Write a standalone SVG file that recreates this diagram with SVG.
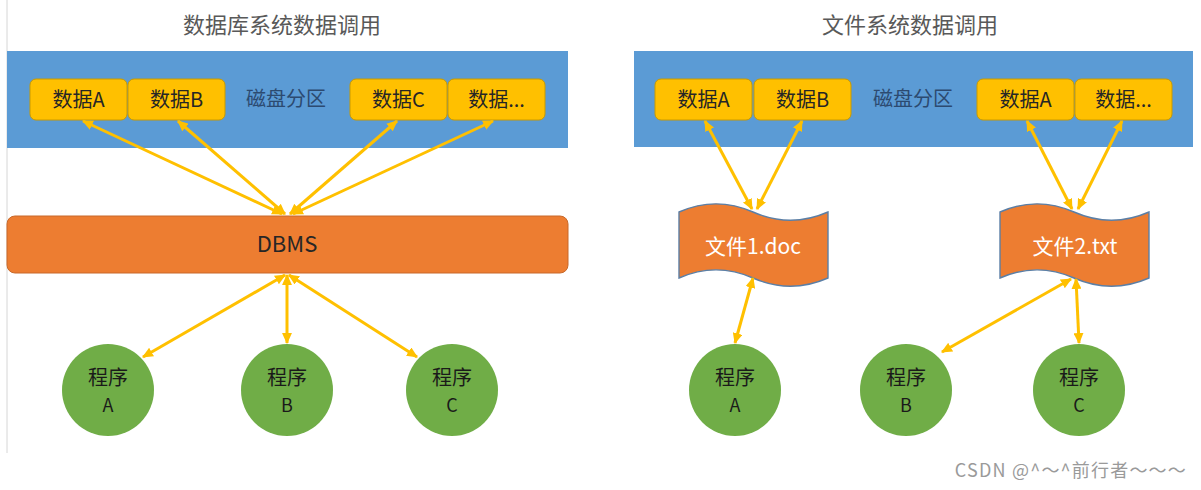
<svg xmlns="http://www.w3.org/2000/svg" width="1201" height="490" viewBox="0 0 1201 490">
<defs>
<style>
text{font-family:"Noto Sans CJK SC","Noto Sans",sans-serif;}
.title{font-size:22px;fill:#595959;text-anchor:middle;}
.disk{fill:#5B9BD5;}
.data{fill:#FFC000;stroke:#C99A00;stroke-width:1;}
.dtxt{font-size:20px;fill:#262626;text-anchor:middle;}
.part{font-size:20px;fill:#2C4A70;text-anchor:middle;}
.dbms{fill:#ED7D31;stroke:#C8692A;stroke-width:1;}
.doc{fill:#ED7D31;stroke:#5B7FA6;stroke-width:1.4;}
.doctxt{font-size:21px;fill:#FFFFFF;text-anchor:middle;}
.prog{fill:#70AD47;}
.ptxt{font-size:20px;fill:#1A1A1A;text-anchor:middle;}
.ltxt{font-size:18px;fill:#1A1A1A;text-anchor:middle;}
.conn line{stroke:#FFC000;stroke-width:3;marker-start:url(#ah);marker-end:url(#ah);}
.wm{font-size:18px;fill:#9A9A9A;text-anchor:end;letter-spacing:1.2px;}
</style>
<marker id="ah" viewBox="0 0 10 9" refX="9" refY="4.5" markerWidth="11" markerHeight="10" markerUnits="userSpaceOnUse" orient="auto-start-reverse">
<path d="M0,0 L10,4.5 L0,9 Z" fill="#FFC000"/>
</marker>
<path id="docshape" d="M0,8 C25,-3 49,-3 74,8 C99,19 124,19 149,8 L149,74 C124,85 99,85 74,74 C49,63 25,63 0,74 Z"/>
</defs>
<rect width="1201" height="490" fill="#FFFFFF"/>
<line x1="7" y1="0" x2="7" y2="453" stroke="#D6D6D6" stroke-width="1"/>

<g id="left-panel">
<text class="title" x="282" y="33">数据库系统数据调用</text>
<rect class="disk" x="7" y="51" width="561" height="97"/>
<text class="part" x="286" y="106">磁盘分区</text>
</g>
<g id="l-dataA"><rect class="data" x="30" y="79" width="97" height="41" rx="6"/><text class="dtxt" x="78.5" y="107">数据A</text></g>
<g id="l-dataB"><rect class="data" x="128" y="79" width="97" height="41" rx="6"/><text class="dtxt" x="176.5" y="107">数据B</text></g>
<g id="l-dataC"><rect class="data" x="350" y="79" width="97" height="41" rx="6"/><text class="dtxt" x="398.5" y="107">数据C</text></g>
<g id="l-dataD"><rect class="data" x="448" y="79" width="97" height="41" rx="6"/><text class="dtxt" x="496.5" y="107">数据...</text></g>
<g id="dbms"><rect class="dbms" x="7" y="216" width="561" height="57" rx="8"/><text x="287" y="252" style="font-size:22px;fill:#262626;text-anchor:middle">DBMS</text></g>
<g id="l-progA"><circle class="prog" cx="108" cy="390" r="46"/><text class="ptxt" x="108" y="385">程序</text><text class="ltxt" x="108" y="412">A</text></g>
<g id="l-progB"><circle class="prog" cx="287" cy="390" r="46"/><text class="ptxt" x="287" y="385">程序</text><text class="ltxt" x="287" y="412">B</text></g>
<g id="l-progC"><circle class="prog" cx="452" cy="390" r="46"/><text class="ptxt" x="452" y="385">程序</text><text class="ltxt" x="452" y="412">C</text></g>

<g id="right-panel">
<text class="title" x="910" y="33">文件系统数据调用</text>
<rect class="disk" x="634" y="51" width="559" height="96"/>
<text class="part" x="913" y="106">磁盘分区</text>
</g>
<g id="r-dataA"><rect class="data" x="655" y="79" width="97" height="41" rx="6"/><text class="dtxt" x="703.5" y="107">数据A</text></g>
<g id="r-dataB"><rect class="data" x="754" y="79" width="97" height="41" rx="6"/><text class="dtxt" x="802.5" y="107">数据B</text></g>
<g id="r-dataA2"><rect class="data" x="977" y="79" width="97" height="41" rx="6"/><text class="dtxt" x="1025.5" y="107">数据A</text></g>
<g id="r-dataD"><rect class="data" x="1075" y="79" width="97" height="41" rx="6"/><text class="dtxt" x="1123.5" y="107">数据...</text></g>
<g id="doc1"><use href="#docshape" class="doc" x="679" y="204"/><text class="doctxt" x="753" y="254">文件1.doc</text></g>
<g id="doc2"><use href="#docshape" class="doc" x="1000" y="204"/><text class="doctxt" x="1075" y="254">文件2.txt</text></g>
<g id="r-progA"><circle class="prog" cx="735" cy="390" r="46"/><text class="ptxt" x="735" y="385">程序</text><text class="ltxt" x="735" y="412">A</text></g>
<g id="r-progB"><circle class="prog" cx="906" cy="390" r="46"/><text class="ptxt" x="906" y="385">程序</text><text class="ltxt" x="906" y="412">B</text></g>
<g id="r-progC"><circle class="prog" cx="1079" cy="390" r="46"/><text class="ptxt" x="1079" y="385">程序</text><text class="ltxt" x="1079" y="412">C</text></g>

<g id="connectors" class="conn">
<line x1="282" y1="214" x2="83" y2="121"/>
<line x1="285" y1="214" x2="178" y2="121"/>
<line x1="290" y1="214" x2="397" y2="121"/>
<line x1="293" y1="214" x2="493" y2="121"/>
<line x1="285" y1="275" x2="143" y2="357"/>
<line x1="287" y1="275" x2="287" y2="343"/>
<line x1="289" y1="275" x2="417" y2="357"/>
<line x1="752" y1="209" x2="705" y2="121"/>
<line x1="757" y1="209" x2="802" y2="121"/>
<line x1="753" y1="278" x2="735" y2="343"/>
<line x1="1072" y1="209" x2="1027" y2="121"/>
<line x1="1078" y1="209" x2="1122" y2="121"/>
<line x1="1071" y1="279" x2="942" y2="352"/>
<line x1="1076" y1="279" x2="1079" y2="343"/>
</g>

<text class="wm" x="1187" y="477">CSDN @^～^前行者～～～</text>
</svg>
